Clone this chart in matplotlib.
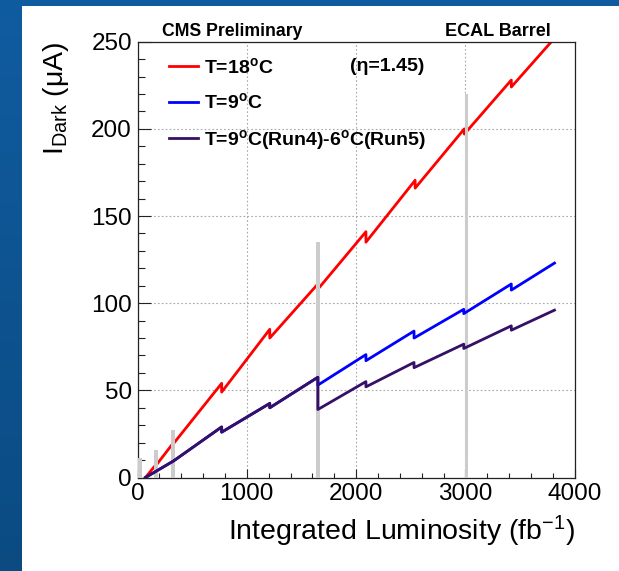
import numpy as np
import matplotlib
matplotlib.use('Agg')
import matplotlib.pyplot as plt
from matplotlib.patches import Rectangle
from matplotlib.ticker import MultipleLocator

plt.rcParams['font.family'] = ['Liberation Sans', 'DejaVu Sans']
plt.rcParams['mathtext.fontset'] = 'custom'
plt.rcParams['mathtext.rm'] = 'Liberation Sans'
plt.rcParams['mathtext.it'] = 'Liberation Sans:italic'
plt.rcParams['mathtext.bf'] = 'Liberation Sans:bold'

# %% data
# T=18C, with the small drops at each year end
red_x = [73, 170, 170, 330, 330, 770, 770, 1210, 1210, 1650, 1650, 2090, 2090, 2540, 2540, 2990, 2990, 3420, 3420, 3815]
red_y = [0, 7.5, 7, 20, 19.5, 54, 49, 85, 80, 111, 108, 141, 135, 170.5, 166, 200, 197, 228, 224, 252]

# T=9C (same as the purple one up to LS3)
blue_x = [73, 330, 770, 770, 1210, 1210, 1650, 1650, 2090, 2090, 2530, 2530, 2985, 2985, 3420, 3420, 3815]
blue_y = [0, 9.5, 29, 26, 42.5, 40, 57.5, 53, 70.5, 67, 84, 80, 96.5, 94, 111, 107.5, 123]

# T=9C(Run4) - 6C(Run5)
purple_x = [73, 330, 770, 770, 1210, 1210, 1650, 1650, 2090, 2090, 2530, 2530, 2985, 2985, 3420, 3420, 3815]
purple_y = [0, 9.5, 29, 26, 42.5, 40, 57.5, 39, 55, 52, 66, 63, 76.5, 74, 87, 84.5, 96]

# grey markers for the long shutdowns
bar_x = [27, 167, 328, 1650, 3010]
bar_h = [11, 16, 27, 135, 220]

labels = [r'T=18$^{\mathbf{o}}$C', r'T=9$^{\mathbf{o}}$C', r'T=9$^{\mathbf{o}}$C(Run4)-6$^{\mathbf{o}}$C(Run5)']

# %% figure + blue frame
W, H = 619, 571
fig = plt.figure(figsize=(W / 100, H / 100), dpi=100)

bg = fig.add_axes([0, 0, 1, 1], zorder=-10)
grad = np.linspace(0, 1, 256)[:, None]
top_c = np.array([0x10, 0x5c, 0xa0]) / 255
bot_c = np.array([0x0b, 0x4b, 0x82]) / 255
img = top_c[None, None, :] * (1 - grad[:, :, None]) + bot_c[None, None, :] * grad[:, :, None]
bg.imshow(img, aspect='auto', extent=[0, 1, 0, 1])
bg.add_patch(Rectangle((22 / W, 0), 1, 1 - 6 / H, color='white', lw=0))
bg.set_xlim(0, 1)
bg.set_ylim(0, 1)
bg.set_axis_off()

# %% main plot
x0, x1 = 137.5, 574.7
y0, y1 = 477.5, 41.7
ax = fig.add_axes([x0 / W, 1 - y0 / H, (x1 - x0) / W, (y0 - y1) / H])

ax.plot(red_x, red_y, color='#ff0000', lw=2.0, zorder=2, label=labels[0])
ax.bar(bar_x, bar_h, width=36, color='#cccccc', zorder=3)
ax.plot(blue_x, blue_y, color='#0000ff', lw=2.0, zorder=4, label=labels[1])
ax.plot(purple_x, purple_y, color='#361066', lw=2.0, zorder=5, label=labels[2])

ax.set_xlim(0, 4000)
ax.set_ylim(0, 250)
ax.set_xticks([0, 1000, 2000, 3000, 4000])
ax.set_yticks([0, 50, 100, 150, 200, 250])
ax.xaxis.set_minor_locator(MultipleLocator(200))
ax.yaxis.set_minor_locator(MultipleLocator(10))
ax.tick_params(which='both', direction='in', top=False, right=False, width=0.8, color='#222222')
ax.tick_params(axis='both', which='major', labelsize=17.5, pad=4)
ax.tick_params(axis='y', which='major', length=9.4)
ax.tick_params(axis='y', which='minor', length=5)
ax.tick_params(axis='x', which='major', length=6.5)
ax.tick_params(axis='x', which='minor', length=3.6)
for s in ax.spines.values():
    s.set_linewidth(0.9)
    s.set_color('#222222')

ax.set_axisbelow(True)
ax.grid(which='major', color='#a8a8a8', linestyle=(0, (1.5, 2)), lw=0.8)

ax.text(1.0, -0.1434, r'Integrated Luminosity (fb$^{\mathrm{-1}}$)', transform=ax.transAxes,
        ha='right', va='baseline', fontsize=20.5)
ax.text(-0.170, 1.0, r'I$_{\mathrm{Dark}}$ (μA)', transform=ax.transAxes, rotation=90,
        rotation_mode='anchor', ha='right', va='baseline', fontsize=20.5)

ax.legend(loc='upper left', bbox_to_anchor=((169 - x0) / (x1 - x0), 1 - (57 - y1) / (y0 - y1)),
          frameon=False, prop={'weight': 'bold', 'size': 14}, handlelength=1.5,
          handletextpad=0.3, labelspacing=0.79, borderaxespad=0, borderpad=0)

fig.text(350 / W, 1 - 66.7 / H, '(η=1.45)', fontsize=14, fontweight='bold', va='center')
fig.text(161.7 / W, 1 - 35.7 / H, 'CMS Preliminary', fontsize=12.7, fontweight='bold', va='baseline')
fig.text(551 / W, 1 - 35.7 / H, 'ECAL Barrel', fontsize=13, fontweight='bold', va='baseline', ha='right')

plt.savefig('out.png', dpi=100)
